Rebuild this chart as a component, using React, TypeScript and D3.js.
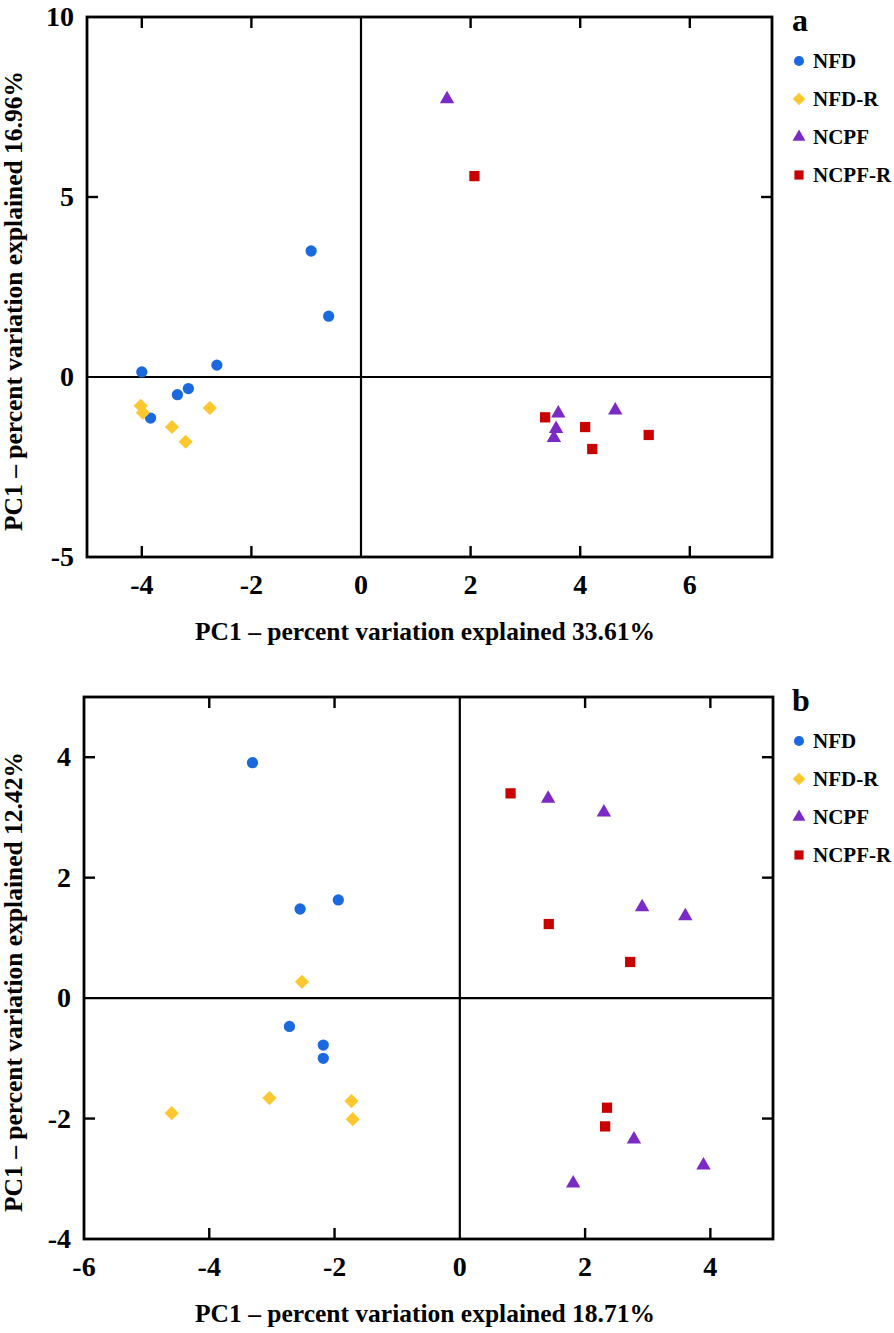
import React from 'react'
import * as d3 from 'd3'

// panel a
const aNFD: [number, number][] = [[-0.91, 3.5], [-0.59, 1.69], [-4.0, 0.14], [-2.63, 0.33], [-3.35, -0.49], [-3.15, -0.32], [-3.84, -1.14]]
const aNFDR: [number, number][] = [[-4.02, -0.8], [-3.98, -0.99], [-2.76, -0.86], [-3.45, -1.39], [-3.2, -1.8]]
const aNCPF: [number, number][] = [[1.57, 7.75], [3.6, -0.98], [3.56, -1.41], [3.52, -1.66], [4.64, -0.9]]
const aNCPFR: [number, number][] = [[2.07, 5.58], [3.36, -1.12], [4.09, -1.39], [4.22, -2.0], [5.25, -1.61]]

// panel b
const bNFD: [number, number][] = [[-3.31, 3.91], [-2.55, 1.48], [-1.94, 1.63], [-2.72, -0.47], [-2.18, -0.78], [-2.18, -1.0]]
const bNFDR: [number, number][] = [[-2.52, 0.27], [-4.6, -1.91], [-3.04, -1.66], [-1.73, -1.71], [-1.71, -2.01]]
const bNCPF: [number, number][] = [[1.41, 3.33], [2.3, 3.1], [2.91, 1.53], [3.6, 1.38], [1.81, -3.06], [2.78, -2.33], [3.89, -2.76]]
const bNCPFR: [number, number][] = [[0.81, 3.4], [1.42, 1.23], [2.72, 0.6], [2.35, -1.82], [2.32, -2.13]]

const groups = ['NFD', 'NFD-R', 'NCPF', 'NCPF-R']
const colors = ['#1b69df', '#fdc82f', '#7b2ac6', '#c80000']

const aXTicks = [-4, -2, 0, 2, 4, 6]
const aYTicks = [10, 5, 0, -5]
const bXTicks = [-6, -4, -2, 0, 2, 4]
const bYTicks = [4, 2, 0, -2, -4]

const FONT = '"Liberation Serif", "Times New Roman", serif'

function marker(i: number, scale = 1) {
  if (i === 0) return d3.symbol(d3.symbolCircle, 100 * scale)()
  if (i === 1) return d3.symbol(d3.symbolSquare, 100 * scale)()
  if (i === 2) return d3.symbol(d3.symbolTriangle, 90 * scale)()
  return d3.symbol(d3.symbolSquare, 105 * scale)()
}

function Panel(props: any) {
  const { top, bottom, left, right, xDomain, yDomain, xTicks, yTicks, series, letter, xTitle, yTitle } = props
  const x = d3.scaleLinear().domain(xDomain).range([left, right])
  const y = d3.scaleLinear().domain(yDomain).range([bottom, top])
  const tick = 11
  const inX = xTicks.filter((v: number) => v !== 0 && x(v) > left + 2 && x(v) < right - 2)
  const inY = yTicks.filter((v: number) => v !== 0 && y(v) > top + 2 && y(v) < bottom - 2)
  return (
    <g>
      <rect x={left} y={top} width={right - left} height={bottom - top} fill="#fff" stroke="#000" strokeWidth={2.8} />
      <line x1={x(0)} x2={x(0)} y1={top} y2={bottom} stroke="#000" strokeWidth={2.2} />
      <line x1={left} x2={right} y1={y(0)} y2={y(0)} stroke="#000" strokeWidth={2.2} />
      {inX.map((v: number) => (
        <g key={'xt' + v}>
          <line x1={x(v)} x2={x(v)} y1={bottom} y2={bottom - tick} stroke="#000" strokeWidth={2.4} />
          <line x1={x(v)} x2={x(v)} y1={top} y2={top + tick} stroke="#000" strokeWidth={2.4} />
        </g>
      ))}
      {inY.map((v: number) => (
        <g key={'yt' + v}>
          <line x1={left} x2={left + tick} y1={y(v)} y2={y(v)} stroke="#000" strokeWidth={2.4} />
          <line x1={right} x2={right - tick} y1={y(v)} y2={y(v)} stroke="#000" strokeWidth={2.4} />
        </g>
      ))}
      {xTicks.map((v: number) => (
        <text key={'xl' + v} x={x(v)} y={bottom + 37} textAnchor="middle" fontSize={28} fontWeight="bold" fontFamily={FONT}>{String(v)}</text>
      ))}
      {yTicks.map((v: number) => (
        <text key={'yl' + v} x={left - 13} y={y(v)} dy="0.33em" textAnchor="end" fontSize={28} fontWeight="bold" fontFamily={FONT}>{String(v)}</text>
      ))}
      <text x={425} y={bottom + 83} textAnchor="middle" fontSize={25.5} fontWeight="bold" fontFamily={FONT}>{xTitle}</text>
      <text transform={`translate(22,${(top + bottom) / 2 + 14}) rotate(-90)`} textAnchor="middle" fontSize={25.5} fontWeight="bold" fontFamily={FONT}>{yTitle}</text>
      {series.map((pts: [number, number][], i: number) => (
        <g key={'s' + i}>
          {pts.map((p, j) => (
            <path key={j} d={marker(i) as string} fill={colors[i]}
              transform={`translate(${x(p[0])},${y(p[1]) + (i === 2 ? 1 : 0)})${i === 1 ? ' rotate(45)' : ''}`} />
          ))}
        </g>
      ))}
      <text x={792} y={top + 14} fontSize={32} fontWeight="bold" fontFamily={FONT}>{letter}</text>
      {groups.map((g, i) => (
        <g key={g} transform={`translate(799,${top + 44 + i * 38})`}>
          <path d={marker(i, 0.8) as string} fill={colors[i]} transform={i === 1 ? 'rotate(45)' : ''} />
          <text x={14} dy="0.35em" fontSize={21} fontWeight="bold" fontFamily={FONT}>{g}</text>
        </g>
      ))}
    </g>
  )
}

export default function App() {
  return (
    <svg width={894} height={1333} style={{ position: 'absolute', left: 0, top: 0, background: '#fff' }}>
      <rect width={894} height={1333} fill="#fff" />
      <Panel top={17} bottom={557} left={87} right={772} xDomain={[-5, 7.5]} yDomain={[-5, 10]}
        xTicks={aXTicks} yTicks={aYTicks} series={[aNFD, aNFDR, aNCPF, aNCPFR]} letter="a"
        xTitle="PC1 – percent variation explained 33.61%" yTitle="PC1 – percent variation explained 16.96%" />
      <Panel top={697} bottom={1239} left={84} right={773} xDomain={[-6, 5]} yDomain={[-4, 5]}
        xTicks={bXTicks} yTicks={bYTicks} series={[bNFD, bNFDR, bNCPF, bNCPFR]} letter="b"
        xTitle="PC1 – percent variation explained 18.71%" yTitle="PC1 – percent variation explained 12.42%" />
    </svg>
  )
}
